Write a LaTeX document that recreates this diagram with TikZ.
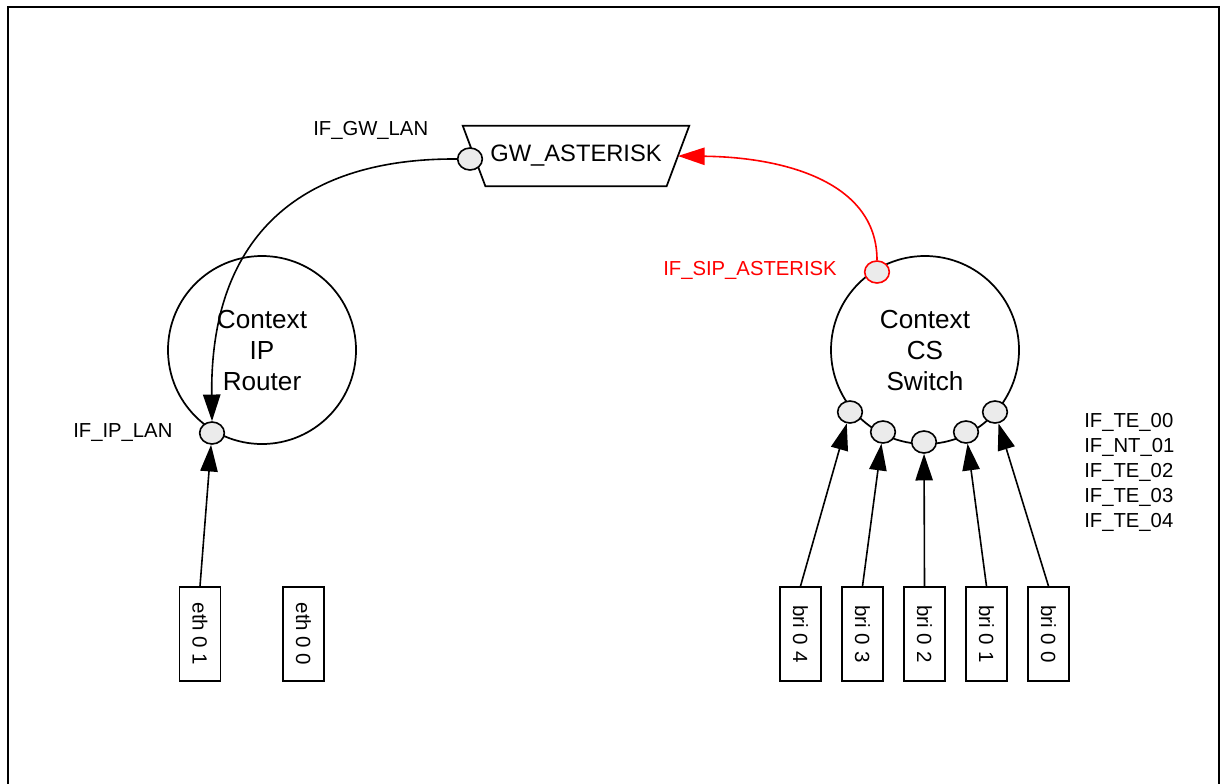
\documentclass[tikz,border=0pt]{standalone}
\usepackage{fontspec}
\setmainfont{Liberation Sans}
\usetikzlibrary{shapes.geometric,arrows.meta}
\definecolor{portgray}{HTML}{EBEBEB}
\tikzset{
  ctx/.style={circle, draw, line width=1.3pt, minimum size=141pt, inner sep=0pt, align=center,
              font=\fontsize{19.6}{23.25}\selectfont},
  port/.style={ellipse, draw, fill=portgray, line width=1.2pt, minimum width=18.5pt, minimum height=16.5pt, inner sep=0pt},
  redport/.style={port, draw=red},
  ifbox/.style={rectangle, draw, line width=1.3pt, minimum width=30.75pt, minimum height=70.5pt, inner sep=0pt,
                font=\fontsize{15.4}{18}\selectfont},
  gwbox/.style={rectangle, inner sep=0pt, minimum width=169.5pt, minimum height=45pt,
                font=\fontsize{17.8}{20}\selectfont},
  lbl/.style={anchor=west, inner sep=0pt, font=\fontsize{15.2}{18}\selectfont},
  arr/.style={line width=1.2pt, -{Triangle[length=20pt,width=13pt]}},
  redarr/.style={arr, draw=red, -{Triangle[length=20pt,width=13pt,fill=red]}},
}
\begin{document}
\begin{tikzpicture}[x=0.75pt,y=-0.75pt]
\useasboundingbox (0,0) rectangle (1220,783);
% frame
\draw[line width=1.4pt] (8,800) -- (8,7) -- (1219,7) -- (1219,800);

% contexts
\node[ctx] (ipr) at (262,350) {Context\\IP\\Router};
\node[ctx] (css) at (925,350) {Context\\CS\\Switch};

% gateway
\node[gwbox] (gw) at (576,156) {GW\_ASTERISK};
\draw[line width=1.3pt] (gw.north west) -- (gw.north east)
  -- ([xshift=-17pt]gw.south east) -- ([xshift=17pt]gw.south west) -- cycle;
\coordinate (gwin) at ([xshift=-8.5pt]gw.east);

% ports
\node[port] (gwlan) at (470,159) {};
\node[port] (iplan) at (212,433) {};
\node[redport] (sip) at (877,272) {};
\node[port] (p0) at (850,412) {};
\node[port] (p1) at (883,432) {};
\node[port] (p2) at (924,442) {};
\node[port] (p3) at (966,432) {};
\node[port] (p4) at (995,412) {};

% interface boxes
\node[ifbox] (eth01) at (200,634) {\rotatebox{-90}{eth 0 1}};
\node[ifbox] (eth00) at (303.5,634) {\rotatebox{-90}{eth 0 0}};
\node[ifbox] (bri04) at (800.5,634) {\rotatebox{-90}{bri 0 4}};
\node[ifbox] (bri03) at (862.5,634) {\rotatebox{-90}{bri 0 3}};
\node[ifbox] (bri02) at (924.5,634) {\rotatebox{-90}{bri 0 2}};
\node[ifbox] (bri01) at (986.5,634) {\rotatebox{-90}{bri 0 1}};
\node[ifbox] (bri00) at (1048.5,634) {\rotatebox{-90}{bri 0 0}};

% labels
\node[lbl] (lgw) at (313,130) {IF\_GW\_LAN};
\node[lbl] (lip) at (73,433) {IF\_IP\_LAN};
\node[lbl, text=red] (lsip) at (663,270) {IF\_SIP\_ASTERISK};
\node[lbl] (lte0) at (1084,422) {IF\_TE\_00};
\node[lbl] (lnt1) at (1084,447) {IF\_NT\_01};
\node[lbl] (lte2) at (1084,472) {IF\_TE\_02};
\node[lbl] (lte3) at (1084,497) {IF\_TE\_03};
\node[lbl] (lte4) at (1084,522) {IF\_TE\_04};

% connectors
\draw[arr] (gwlan.west) .. controls (305,158) and (210,232) .. (iplan.north);
\draw[redarr] (sip.north) .. controls (877,180) and (780,157) .. (gwin);
\draw[arr] (eth01.north) -- (iplan);
\draw[arr] (bri04.north) -- (p0);
\draw[arr] (bri03.north) -- (p1);
\draw[arr] (bri02.north) -- (p2);
\draw[arr] (bri01.north) -- (p3);
\draw[arr] (bri00.north) -- (p4);
\end{tikzpicture}
\end{document}
